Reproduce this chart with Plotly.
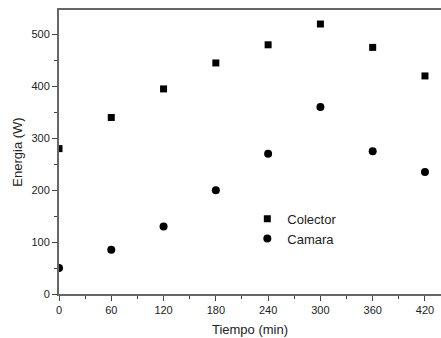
import plotly.graph_objects as go

tiempo = [0, 60, 120, 180, 240, 300, 360, 420]
colector = [280, 340, 395, 445, 480, 520, 475, 420]
camara = [50, 85, 130, 200, 270, 360, 275, 235]

fig = go.Figure()
fig.add_trace(go.Scatter(x=tiempo, y=colector, mode="markers", name="Colector",
                         marker=dict(symbol="square", size=7, color="black"), cliponaxis=True))
fig.add_trace(go.Scatter(x=tiempo, y=camara, mode="markers", name="Camara",
                         marker=dict(symbol="circle", size=8, color="black"), cliponaxis=True))

axis_common = dict(showgrid=False, zeroline=False, showline=True, linecolor="#666",
                   linewidth=2, ticks="outside", tickcolor="#444", ticklen=5, tickwidth=1,
                   tickfont=dict(family="Liberation Sans, Arial", size=11, color="#222"))

fig.update_xaxes(range=[0, 438.4], tickvals=tiempo, mirror=True,
                 minor=dict(dtick=30, tick0=0, ticks="outside", ticklen=3, tickcolor="#444"),
                 title=dict(text="Tiempo (min)", font=dict(family="Liberation Sans, Arial", size=13, color="#222"), standoff=10),
                 **axis_common)
fig.update_yaxes(range=[0, 547], tickvals=[0, 100, 200, 300, 400, 500],
                 minor=dict(dtick=50, tick0=0, ticks="outside", ticklen=3, tickcolor="#444"),
                 title=dict(text="Energia (W)", font=dict(family="Liberation Sans, Arial", size=13, color="#222"), standoff=6),
                 **axis_common)

fig.update_layout(width=441, height=338, margin=dict(l=59, r=0, t=10, b=44),
                  plot_bgcolor="white", paper_bgcolor="white",
                  legend=dict(x=0.493, y=0.318, xanchor="left", yanchor="top",
                              bgcolor="rgba(0,0,0,0)", tracegroupgap=0,
                              font=dict(family="Liberation Sans, Arial", size=13, color="#222")),
                  showlegend=True)

fig.write_html("out.html", config={"displayModeBar": False},
               post_script="document.body.style.margin='0';document.body.style.overflow='hidden';")
